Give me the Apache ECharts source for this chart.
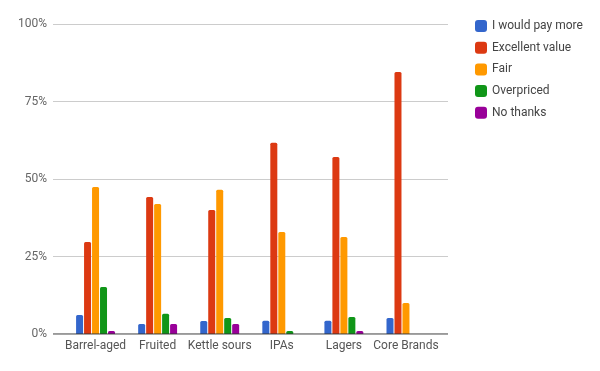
<!DOCTYPE html>
<html>
<head>
<meta charset="utf-8">
<script src="https://cdn.jsdelivr.net/npm/echarts@6/dist/echarts.min.js"></script>
<style>html,body{margin:0;padding:0;background:#fff}#c{width:600px;height:371px}</style>
</head>
<body>
<div id="c"></div>
<script>
const categories = ['Barrel-aged', 'Fruited', 'Kettle sours', 'IPAs', 'Lagers', 'Core Brands'];
const seriesNames = ['I would pay more', 'Excellent value', 'Fair', 'Overpriced', 'No thanks'];
const payMore = [6.1, 3.2, 4.2, 4.3, 4.3, 5.2];
const excellent = [29.7, 44.2, 40.0, 61.7, 57.1, 84.5];
const fair = [47.4, 41.9, 46.5, 32.9, 31.3, 10.0];
const overpriced = [15.2, 6.5, 5.2, 1.0, 5.5, null];
const noThanks = [1.0, 3.2, 3.2, null, 1.0, null];
const yTicks = [0, 25, 50, 75, 100];
const colors = ['#3366cc', '#dc3912', '#ff9900', '#109618', '#990099'];
const values = [payMore, excellent, fair, overpriced, noThanks];

const font = 'Roboto, Arial, sans-serif';
const chart = echarts.init(document.getElementById('c'));
chart.setOption({
  animation: false,
  color: colors,
  legend: {
    orient: 'vertical', left: 470, top: 15,
    itemWidth: 12, itemHeight: 12, itemGap: 9.7, itemTextGap: 8,
    icon: 'roundRect',
    textStyle: { fontFamily: font, fontSize: 12, color: '#444' },
    data: seriesNames
  },
  grid: [
    { left: 53, right: 152, top: 24, bottom: 37 },
    { left: 64.5, right: 163, top: 24, bottom: 37 }
  ],
  xAxis: [
    { gridIndex: 0, type: 'value', min: 0, max: 1, show: true,
      axisLine: { show: false }, axisTick: { show: false }, axisLabel: { show: false }, splitLine: { show: false } },
    { gridIndex: 1, type: 'category', data: categories,
      axisLine: { show: false }, axisTick: { show: false },
      axisLabel: { fontFamily: font, fontSize: 12, color: '#555', margin: 6, interval: 0 } }
  ],
  yAxis: [
    { gridIndex: 0, type: 'value', min: yTicks[0], max: yTicks[yTicks.length - 1], interval: 25,
      axisLine: { show: false }, axisTick: { show: false },
      axisLabel: { fontFamily: font, fontSize: 12, color: '#666', margin: 6, formatter: v => v + '%' },
      splitLine: { lineStyle: { color: '#cccccc', width: 1 } } },
    { gridIndex: 1, type: 'value', min: 0, max: 100, show: false }
  ],
  series: seriesNames.map((n, i) => ({
    name: n, type: 'bar', xAxisIndex: 1, yAxisIndex: 1,
    data: values[i], barWidth: 7, barGap: '14%',
    itemStyle: { color: colors[i], borderRadius: [1.5, 1.5, 0, 0] }
  })).concat([{
    type: 'line', xAxisIndex: 0, yAxisIndex: 0, data: [[0, 0], [1, 0]],
    symbol: 'none', silent: true, lineStyle: { color: '#333', width: 1 }, z: 10
  }])
});
</script>
</body>
</html>
